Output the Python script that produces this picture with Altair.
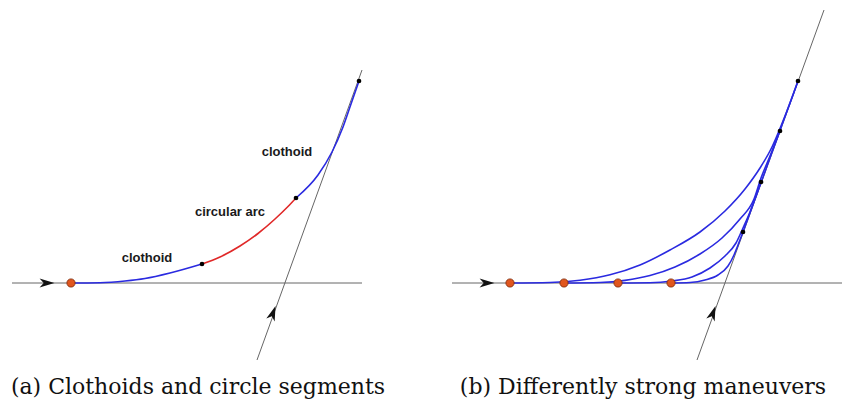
import altair as alt
import pandas as pd

W, H = 843, 406

# ---------------- panel (a) : values (y grows downwards)
a_refh_x = [12, 362]
a_refh_y = [283, 283]
a_refo_x = [257, 362]
a_refo_y = [360, 70]
a_clo1_x = [71, 100, 125, 145, 170, 202]
a_clo1_y = [283, 282.7, 281, 278.5, 273, 264]
a_arc_x = [202, 220, 240, 258, 275, 288, 296]
a_arc_y = [264, 257, 246, 233.5, 219, 206.5, 198]
a_clo2_x = [296, 318, 332, 343, 351, 359]
a_clo2_y = [198, 175, 152, 127, 104, 81]
a_knot_x = [202, 296, 359]
a_knot_y = [264, 198, 81]
a_start_x = [71]
a_start_y = [283]
a_arrow_x = [47, 273]
a_arrow_y = [283, 313]
a_arrow_angle = [90, 20]
a_labels = ["clothoid", "circular arc", "clothoid"]
a_label_x = [147, 230, 287]
a_label_y = [258, 212, 152]

# ---------------- panel (b)
b_refh_x = [452, 842]
b_refh_y = [283, 283]
b_refo_x = [697, 824]
b_refo_y = [360, 10]
b_c1_x = [510, 550, 580, 610, 640, 670, 700, 725, 745, 760, 772, 781, 790, 798]
b_c1_y = [283, 282.5, 280.2, 274.8, 265, 250, 232, 211, 189, 168, 147, 126, 103, 81]
b_c2_x = [564, 600, 625, 650, 675, 700, 722, 740, 754, 761, 770, 780]
b_c2_y = [283, 282.5, 280.4, 275.6, 267, 254, 238, 219, 199, 178, 156, 131]
b_c3_x = [618, 650, 672, 692, 710, 725, 736, 743, 750, 756, 761]
b_c3_y = [283, 282.8, 281, 277, 268, 256, 243, 228, 212, 196, 182]
b_c4_x = [671, 690, 705, 718, 728, 734, 738, 743]
b_c4_y = [283, 282.5, 280, 275, 266, 255, 245, 232]
b_tail_x = [743, 798]
b_tail_y = [232, 81]
b_knot_x = [798, 780, 761, 743]
b_knot_y = [81, 131, 182, 232]
b_start_x = [510, 564, 618, 671]
b_start_y = [283, 283, 283, 283]
b_arrow_x = [487, 713]
b_arrow_y = [283, 313]
b_arrow_angle = [90, 20]

captions = ["(a) Clothoids and circle segments", "(b) Differently strong maneuvers"]
caption_x = [198, 643]
caption_y = [394, 394]


def seg(name, xs, ys):
    return pd.DataFrame({"seg": name, "x": xs, "y": ys, "i": list(range(len(xs)))})


gray_df = pd.concat([
    seg("a_h", a_refh_x, a_refh_y), seg("a_o", a_refo_x, a_refo_y),
    seg("b_h", b_refh_x, b_refh_y), seg("b_o", b_refo_x, b_refo_y),
])
blue_df = pd.concat([
    seg("a_c1", a_clo1_x, a_clo1_y), seg("a_c2", a_clo2_x, a_clo2_y),
    seg("b_c1", b_c1_x, b_c1_y), seg("b_c2", b_c2_x, b_c2_y),
    seg("b_c3", b_c3_x, b_c3_y), seg("b_c4", b_c4_x, b_c4_y),
    seg("b_t", b_tail_x, b_tail_y),
])
red_df = seg("a_arc", a_arc_x, a_arc_y)

knot_df = pd.DataFrame({"x": a_knot_x + b_knot_x, "y": a_knot_y + b_knot_y})
start_df = pd.DataFrame({"x": a_start_x + b_start_x, "y": a_start_y + b_start_y})
arrow_df = pd.DataFrame({"x": a_arrow_x + b_arrow_x, "y": a_arrow_y + b_arrow_y,
                         "ang": a_arrow_angle + b_arrow_angle})
label_df = pd.DataFrame({"t": a_labels, "x": a_label_x, "y": a_label_y})
cap_df = pd.DataFrame({"t": captions, "x": caption_x, "y": caption_y})

X = alt.X("x:Q", scale=alt.Scale(domain=[0, W], nice=False, zero=False), axis=None)
Y = alt.Y("y:Q", scale=alt.Scale(domain=[0, H], nice=False, zero=False, reverse=True), axis=None)

gray = alt.Chart(gray_df).mark_line(color="#666666", strokeWidth=1).encode(
    x=X, y=Y, detail="seg:N", order="i:Q")
blue = alt.Chart(blue_df).mark_line(color="#2a2ae0", strokeWidth=1.6, interpolate="monotone").encode(
    x=X, y=Y, detail="seg:N", order="i:Q")
red = alt.Chart(red_df).mark_line(color="#e02828", strokeWidth=1.6, interpolate="monotone").encode(
    x=X, y=Y, order="i:Q")

arrow_shape = "M0,-1L0.6,1L0,0.45L-0.6,1Z"
arrows = alt.Chart(arrow_df).mark_point(shape=arrow_shape, filled=True, color="#111111",
                                        size=220, opacity=1).encode(
    x=X, y=Y, angle=alt.Angle("ang:Q", scale=None))
knots = alt.Chart(knot_df).mark_point(filled=True, color="#000000", size=22, opacity=1).encode(x=X, y=Y)
starts = alt.Chart(start_df).mark_point(filled=True, fill="#e0561e", stroke="#7a2a0c",
                                        strokeWidth=0.8, size=68, opacity=1).encode(x=X, y=Y)
labels = alt.Chart(label_df).mark_text(font="Liberation Sans", fontWeight="bold", fontSize=13,
                                       color="#1a1a1a", baseline="middle", align="center").encode(
    x=X, y=Y, text="t:N")
caps = alt.Chart(cap_df).mark_text(font="DejaVu Serif", fontSize=22, color="#111111",
                                   baseline="alphabetic", align="center").encode(
    x=X, y=Y, text="t:N")

chart = alt.layer(gray, blue, red, arrows, knots, starts, labels, caps).properties(
    width=W, height=H, padding=0, autosize="none", background="white"
).configure_view(stroke=None)

chart.save("out.html", embed_options={"renderer": "svg", "actions": False})
